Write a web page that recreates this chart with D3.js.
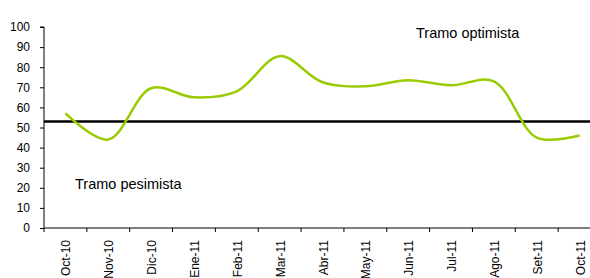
<!DOCTYPE html>
<html>
<head>
<meta charset="utf-8">
<script src="https://cdn.jsdelivr.net/npm/d3@7"></script>
<style>
  body { margin: 0; background: #fff; }
  svg { display: block; font-family: "Liberation Sans", Arial, sans-serif; }
  .axis path, .axis line { stroke: #000; }
  .axis text { fill: #000; font-size: 12px; }
</style>
</head>
<body>
<div id="chart"></div>
<script>
var months = ["Oct-10", "Nov-10", "Dic-10", "Ene-11", "Feb-11", "Mar-11", "Abr-11",
              "May-11", "Jun-11", "Jul-11", "Ago-11", "Set-11", "Oct-11"]
var values = [57, 44, 69.5, 65, 68, 85.5, 72.5, 70.5, 73.5, 71, 73, 45, 46]
var threshold = 53
var yTicks = [0, 10, 20, 30, 40, 50, 60, 70, 80, 90, 100]

var width = 590, height = 278

var svg = d3.select("#chart").append("svg")
    .attr("width", width)
    .attr("height", height)

var x = d3.scaleBand()
    .domain(months)
    .range([44, 601])

var y = d3.scaleLinear()
    .domain([0, 100])
    .range([228, 27])

// y axis
svg.append("g")
    .attr("class", "axis")
    .attr("transform", "translate(44,0)")
    .call(d3.axisLeft(y).tickValues(yTicks).tickSize(4).tickSizeOuter(4).tickPadding(10))
    .call(function(g) { g.select(".domain").attr("d", "M-4," + y(100) + "H0V" + y(0)) })

// x axis, ticks between categories
var xAxis = svg.append("g")
    .attr("class", "axis")
    .attr("transform", "translate(0,228)")
xAxis.append("line")
    .attr("x1", 44).attr("x2", 601)
    .attr("y1", 0).attr("y2", 0)
    .attr("stroke", "#000")
xAxis.selectAll(".tk")
    .data(months.concat(["_end"]))
  .enter().append("line")
    .attr("class", "tk")
    .attr("x1", function(d, i) { return 44 + i * x.step() })
    .attr("x2", function(d, i) { return 44 + i * x.step() })
    .attr("y1", 0).attr("y2", 4)
xAxis.selectAll("text")
    .data(months)
  .enter().append("text")
    .attr("transform", function(d) { return "translate(" + (x(d) + x.bandwidth() / 2 + 5) + ",12)rotate(-90)" })
    .attr("text-anchor", "end")
    .text(function(d) { return d })

// threshold line
svg.append("line")
    .attr("x1", 44).attr("x2", width)
    .attr("y1", y(threshold)).attr("y2", y(threshold))
    .attr("stroke", "#000")
    .attr("stroke-width", 2.5)

// smoothed series
var line = d3.line()
    .x(function(d, i) { return x(months[i]) + x.bandwidth() / 2 })
    .y(function(d) { return y(d) })
    .curve(d3.curveCatmullRom.alpha(0.5))

svg.append("path")
    .datum(values)
    .attr("d", line)
    .attr("fill", "none")
    .attr("stroke", "#99cc00")
    .attr("stroke-width", 2.5)

svg.append("text")
    .attr("x", 416).attr("y", 38)
    .style("font-size", "14.5px")
    .text("Tramo optimista")

svg.append("text")
    .attr("x", 75).attr("y", 189)
    .style("font-size", "14.5px")
    .text("Tramo pesimista")
</script>
</body>
</html>
